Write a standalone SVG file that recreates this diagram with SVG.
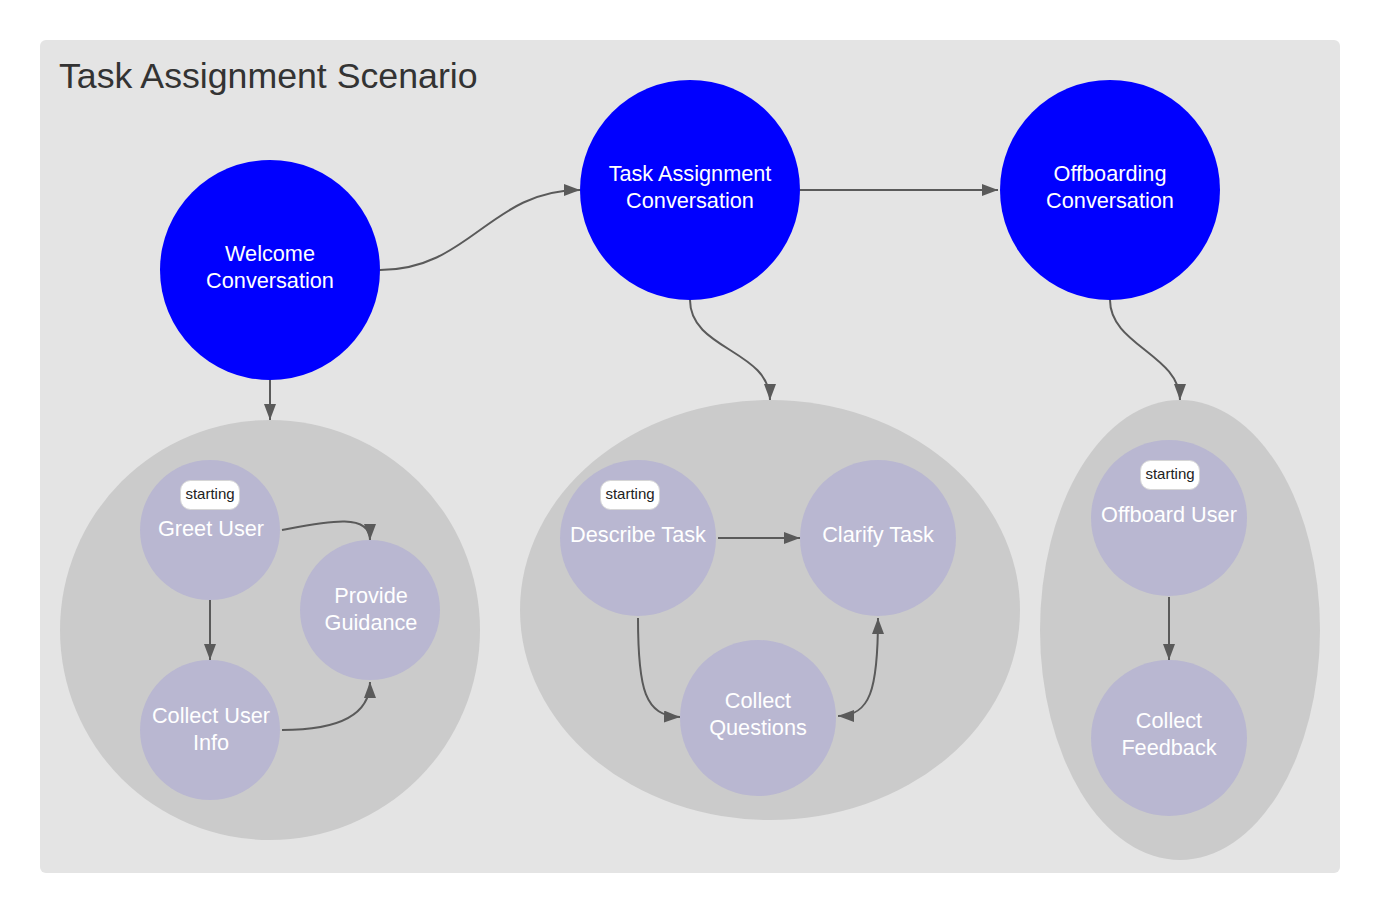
<svg xmlns="http://www.w3.org/2000/svg" width="1380" height="914" viewBox="0 0 1380 914">
<style>
.title{font-family:"Liberation Sans",Arial,sans-serif;font-size:35.7px;fill:#333333}
.big{fill:#0000ff}
.grp{fill:#cbcbcb}
.node{fill:#b9b7d1}
.lbl{font-family:"Liberation Sans",Arial,sans-serif;font-size:21.7px;fill:#ffffff;text-anchor:middle}
.badge{fill:#ffffff;stroke:#d6d6d6;stroke-width:1}
.btxt{font-family:"Liberation Sans",Arial,sans-serif;font-size:15px;fill:#222222;text-anchor:middle}
.edge{fill:none;stroke:#5a5a5a;stroke-width:2;marker-end:url(#arr)}
</style>
<defs>
<marker id="arr" viewBox="0 0 16 12" refX="16" refY="6" markerWidth="16" markerHeight="12" markerUnits="userSpaceOnUse" orient="auto-start-reverse">
<path d="M0,0 L16,6 L0,12 z" fill="#5a5a5a"/>
</marker>
</defs>
<rect x="40" y="40" width="1300" height="833" rx="6" fill="#e4e4e4"/>
<text class="title" x="59" y="88">Task Assignment Scenario</text>

<g id="group-welcome"><circle class="grp" cx="270" cy="630" r="210"/></g>
<g id="group-task"><ellipse class="grp" cx="770" cy="610" rx="250" ry="210"/></g>
<g id="group-offboarding"><ellipse class="grp" cx="1180" cy="630" rx="140" ry="230"/></g>

<g id="welcome-conversation"><circle class="big" cx="270" cy="270" r="110"/>
<text class="lbl" x="270" y="261">Welcome</text><text class="lbl" x="270" y="288">Conversation</text></g>
<g id="task-assignment-conversation"><circle class="big" cx="690" cy="190" r="110"/>
<text class="lbl" x="690" y="181">Task Assignment</text><text class="lbl" x="690" y="208">Conversation</text></g>
<g id="offboarding-conversation"><circle class="big" cx="1110" cy="190" r="110"/>
<text class="lbl" x="1110" y="181">Offboarding</text><text class="lbl" x="1110" y="208">Conversation</text></g>

<g id="greet-user"><circle class="node" cx="210" cy="530" r="70"/>
<rect class="badge" x="180.5" y="480.5" width="59" height="29" rx="10"/>
<text class="btxt" x="210" y="499">starting</text>
<text class="lbl" x="211" y="536">Greet User</text></g>
<g id="provide-guidance"><circle class="node" cx="370" cy="610" r="70"/>
<text class="lbl" x="371" y="603">Provide</text><text class="lbl" x="371" y="630">Guidance</text></g>
<g id="collect-user-info"><circle class="node" cx="210" cy="730" r="70"/>
<text class="lbl" x="211" y="723">Collect User</text><text class="lbl" x="211" y="750">Info</text></g>

<g id="describe-task"><circle class="node" cx="638" cy="538" r="78"/>
<rect class="badge" x="600.5" y="480.5" width="59" height="29" rx="10"/>
<text class="btxt" x="630" y="499">starting</text>
<text class="lbl" x="638" y="542">Describe Task</text></g>
<g id="clarify-task"><circle class="node" cx="878" cy="538" r="78"/>
<text class="lbl" x="878" y="542">Clarify Task</text></g>
<g id="collect-questions"><circle class="node" cx="758" cy="718" r="78"/>
<text class="lbl" x="758" y="708">Collect</text><text class="lbl" x="758" y="735">Questions</text></g>

<g id="offboard-user"><circle class="node" cx="1169" cy="518" r="78"/>
<rect class="badge" x="1140.5" y="460.5" width="59" height="29" rx="10"/>
<text class="btxt" x="1170" y="479">starting</text>
<text class="lbl" x="1169" y="522">Offboard User</text></g>
<g id="collect-feedback"><circle class="node" cx="1169" cy="738" r="78"/>
<text class="lbl" x="1169" y="728">Collect</text><text class="lbl" x="1169" y="755">Feedback</text></g>

<g id="connectors">
<path class="edge" d="M380,270 C470,270 490,190 580,190"/>
<path class="edge" d="M800,190 L998,190"/>
<path class="edge" d="M270,380 L270,420"/>
<path class="edge" d="M690,300 C690,350 770,350 770,400"/>
<path class="edge" d="M1110,300 C1110,345 1180,355 1180,400"/>
<path class="edge" d="M282,530 C325,522 370,512 370,540"/>
<path class="edge" d="M210,600 L210,660"/>
<path class="edge" d="M282,730 C340,730 370,715 370,682"/>
<path class="edge" d="M718,538 L800,538"/>
<path class="edge" d="M638,618 C638,690 645,716 680,717"/>
<path class="edge" style="marker-start:url(#arr)" d="M878,618 C878,690 870,716 838,716"/>
<path class="edge" d="M1169,597 L1169,660"/>
</g>
</svg>
